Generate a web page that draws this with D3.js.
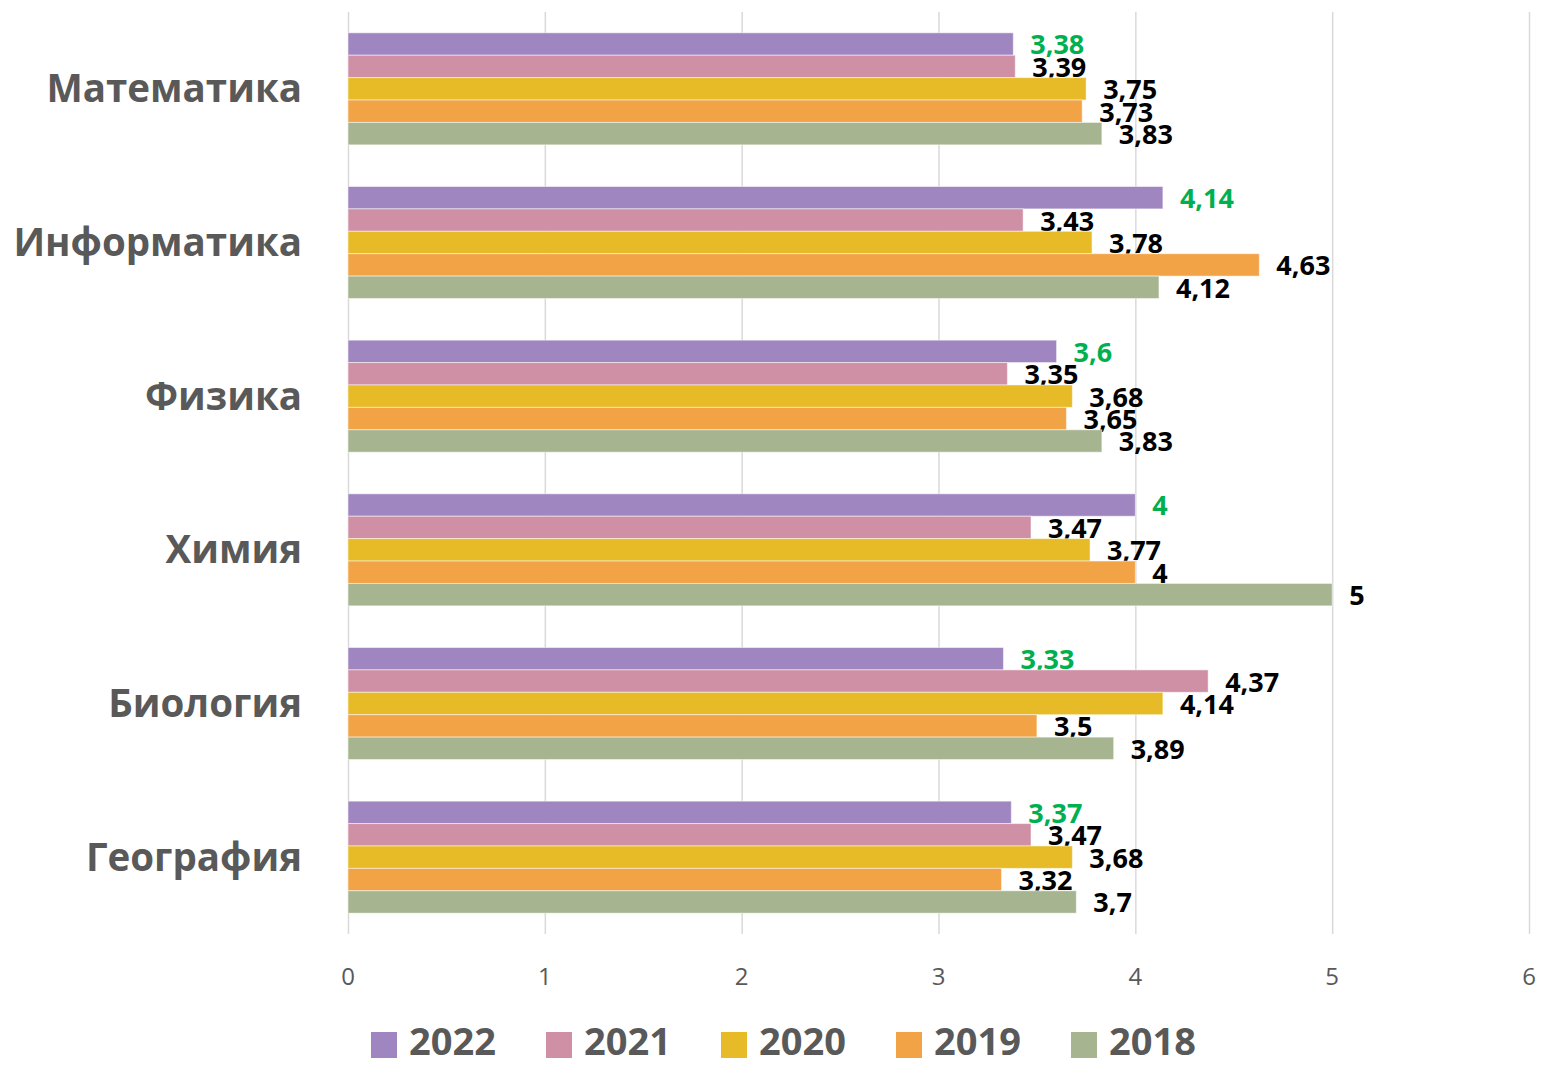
<!DOCTYPE html>
<html>
<head>
<meta charset="utf-8">
<script src="https://cdn.jsdelivr.net/npm/d3@7"></script>
<style>
  body { margin: 0; background: #fff; }
  .grid line { stroke: #d9d9d9; stroke-width: 1.5; }
  .grid path { display: none; }
  text { font-family: 'Open Sans', sans-serif; }
</style>
</head>
<body>
<script>
// ==================== Data ============================
const subjects = ['Математика', 'Информатика', 'Физика', 'Химия', 'Биология', 'География'];
const years = ['2022', '2021', '2020', '2019', '2018'];
const colors = ['#9f86c0', '#cf90a5', '#e6bb27', '#f2a345', '#a6b48f'];

const v2022 = [3.38, 4.14, 3.6, 4, 3.33, 3.37];
const v2021 = [3.39, 3.43, 3.35, 3.47, 4.37, 3.47];
const v2020 = [3.75, 3.78, 3.68, 3.77, 4.14, 3.68];
const v2019 = [3.73, 4.63, 3.65, 4, 3.5, 3.32];
const v2018 = [3.83, 4.12, 3.83, 5, 3.89, 3.7];

const xTicks = [0, 1, 2, 3, 4, 5, 6];

const seriesValues = [v2022, v2021, v2020, v2019, v2018];

// ==================== Set up Variables ============================
const W = 1541, H = 1066;
const plot = {left: 348, right: 1529, top: 12, bottom: 934};

const x = d3.scaleLinear().domain([0, 6]).range([plot.left, plot.right]);
const y = d3.scaleBand().domain(subjects).range([plot.top, plot.bottom])
    .paddingInner(0.271).paddingOuter(0.1355);
const ySub = d3.scaleBand().domain(years).range([0, y.bandwidth()]);

const fmt = (v) => String(v).replace('.', ',');

const svg = d3.select('body')
  .append('svg')
    .attr('width', W)
    .attr('height', H);

// ==================== Gridlines ============================
svg.append('g')
    .attr('class', 'grid')
    .attr('transform', `translate(0, ${plot.bottom})`)
    .call(d3.axisBottom(x).tickValues(xTicks)
      .tickSize(-(plot.bottom - plot.top))
      .tickFormat(''));

// Tick labels
svg.append('g')
  .selectAll('text')
  .data(xTicks)
  .enter()
  .append('text')
    .attr('x', (d) => x(d))
    .attr('y', 977)
    .attr('dy', '.35em')
    .style('text-anchor', 'middle')
    .style('font-size', '24px')
    .style('fill', '#595959')
    .text((d) => d);

// ==================== Bars ============================
years.forEach((yr, i) => {
  const rows = subjects.map((s, j) => ({subject: s, value: seriesValues[i][j]}));
  const g = svg.append('g');

  g.selectAll('rect')
    .data(rows)
    .enter()
    .append('rect')
      .attr('x', x(0))
      .attr('y', (d) => y(d.subject) + ySub(yr))
      .attr('width', (d) => x(d.value) - x(0))
      .attr('height', ySub.bandwidth())
      .style('fill', colors[i])
      .style('stroke', '#ffffff')
      .style('stroke-opacity', 0.5)
      .style('stroke-width', 1);

  g.selectAll('text')
    .data(rows)
    .enter()
    .append('text')
      .attr('x', (d) => x(d.value) + 17)
      .attr('y', (d) => y(d.subject) + ySub(yr) + ySub.bandwidth() / 2 + 1)
      .attr('dy', '.35em')
      .style('font-size', '27px')
      .style('font-weight', 'bold')
      .style('fill', i === 0 ? '#00b050' : '#000000')
      .text((d) => fmt(d.value));
});

// ==================== Category labels ============================
svg.append('g')
  .selectAll('text')
  .data(subjects)
  .enter()
  .append('text')
    .attr('x', 302)
    .attr('y', (d) => y(d) + y.bandwidth() / 2)
    .attr('dy', '.35em')
    .style('text-anchor', 'end')
    .style('font-size', '38.5px')
    .style('font-weight', 'bold')
    .style('fill', '#595959')
    .text((d) => d);

// ==================== Legend ============================
const legend = svg.append('g')
  .selectAll('g')
  .data(years)
  .enter()
  .append('g')
    .attr('transform', (d, i) => `translate(${371 + i * 175}, 1055)`);

legend.append('rect')
    .attr('x', 0)
    .attr('y', -23)
    .attr('width', 26)
    .attr('height', 26)
    .style('fill', (d, i) => colors[i]);

legend.append('text')
    .attr('x', 38)
    .attr('y', 0)
    .style('font-size', '38px')
    .style('font-weight', 'bold')
    .style('fill', '#595959')
    .text((d) => d);
</script>
</body>
</html>
